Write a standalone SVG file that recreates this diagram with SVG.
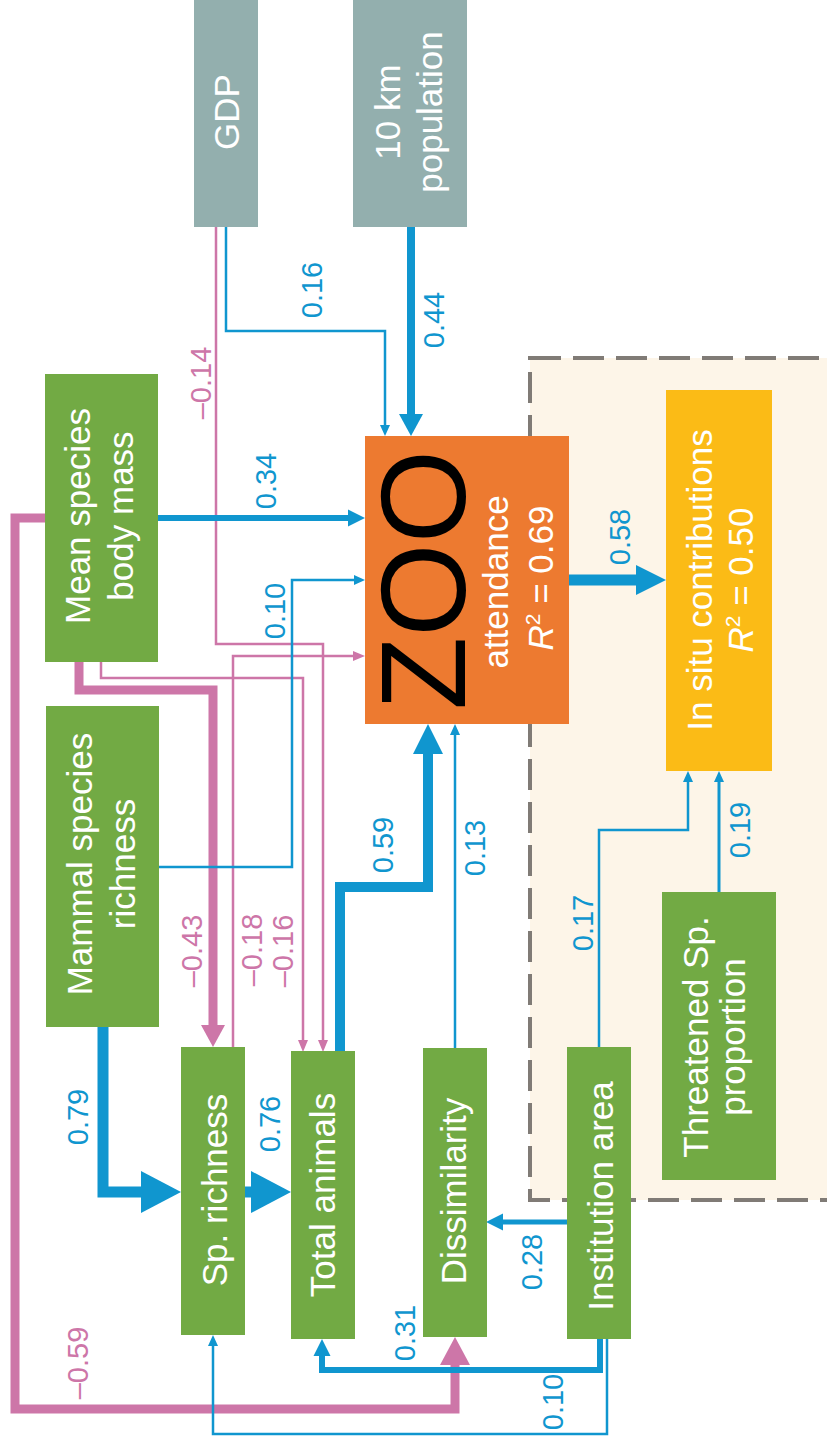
<svg xmlns="http://www.w3.org/2000/svg" width="827" height="1439" viewBox="0 0 827 1439">
  <defs>
    <style>
      text { font-family: "Liberation Sans", Arial, sans-serif; text-anchor: middle; }
      .node { fill: #ffffff; font-size: 35px; }
      .lbl { font-size: 29px; }
      .lb { fill: #1096cf; }
      .lp { fill: #cd76a8; }
      .green { fill: #72aa44; }
      .grey { fill: #93afae; }
      .wire { fill: none; stroke-linejoin: miter; stroke-linecap: butt; }
      .cb { stroke: #1096cf; }
      .cp { stroke: #cd76a8; }
    </style>
    <!-- arrowheads: the path ends at the base, the head extends forward -->
    <marker id="bs" markerUnits="userSpaceOnUse" viewBox="0 0 11 10" markerWidth="11" markerHeight="10" refX="0" refY="5" orient="auto" overflow="visible">
      <path d="M0,0 L11,5 L0,10 Z" fill="#1096cf"/>
    </marker>
    <marker id="bm" markerUnits="userSpaceOnUse" viewBox="0 0 17 17" markerWidth="17" markerHeight="17" refX="0" refY="8.5" orient="auto" overflow="visible">
      <path d="M0,0 L17,8.5 L0,17 Z" fill="#1096cf"/>
    </marker>
    <marker id="bl" markerUnits="userSpaceOnUse" viewBox="0 0 22 24" markerWidth="22" markerHeight="24" refX="0" refY="12" orient="auto" overflow="visible">
      <path d="M0,0 L22,12 L0,24 Z" fill="#1096cf"/>
    </marker>
    <marker id="bxl" markerUnits="userSpaceOnUse" viewBox="0 0 30 30" markerWidth="30" markerHeight="30" refX="0" refY="15" orient="auto" overflow="visible">
      <path d="M0,0 L30,15 L0,30 Z" fill="#1096cf"/>
    </marker>
    <marker id="bxxl" markerUnits="userSpaceOnUse" viewBox="0 0 40 42" markerWidth="40" markerHeight="42" refX="0" refY="21" orient="auto" overflow="visible">
      <path d="M0,0 L40,21 L0,42 Z" fill="#1096cf"/>
    </marker>
    <marker id="ps" markerUnits="userSpaceOnUse" viewBox="0 0 12 10" markerWidth="12" markerHeight="10" refX="0" refY="5" orient="auto" overflow="visible">
      <path d="M0,0 L12,5 L0,10 Z" fill="#cd76a8"/>
    </marker>
    <marker id="pl" markerUnits="userSpaceOnUse" viewBox="0 0 22 24" markerWidth="22" markerHeight="24" refX="0" refY="12" orient="auto" overflow="visible">
      <path d="M0,0 L22,12 L0,24 Z" fill="#cd76a8"/>
    </marker>
    <marker id="pxl" markerUnits="userSpaceOnUse" viewBox="0 0 28 30" markerWidth="28" markerHeight="30" refX="0" refY="15" orient="auto" overflow="visible">
      <path d="M0,0 L28,15 L0,30 Z" fill="#cd76a8"/>
    </marker>
  </defs>

  <rect width="827" height="1439" fill="#ffffff"/>

  <!-- conservation panel -->
  <rect id="panel" x="530" y="358" width="320" height="842" fill="#fdf5e8" stroke="#807b76" stroke-width="4" stroke-dasharray="31 12"/>

  <!-- connectors -->
  <g id="connectors">
    <!-- negative paths -->
    <path class="wire cp" stroke-width="2.5" d="M216,227 V644 H323 V1040" marker-end="url(#ps)"/>
    <path class="wire cp" stroke-width="2.5" d="M233,1047 V656 H353" marker-end="url(#ps)"/>
    <path class="wire cp" stroke-width="2.5" d="M101,662 V678 H303 V1040" marker-end="url(#ps)"/>
    <path class="wire cp" stroke-width="9" d="M79,662 V690 H213 V1025" marker-end="url(#pl)"/>
    <path class="wire cp" stroke-width="9" d="M45,518 H15 V1409 H455 V1365" marker-end="url(#pxl)"/>
    <!-- positive paths -->
    <path class="wire cb" stroke-width="2.5" d="M226,227 V331 H385 V425" marker-end="url(#bs)"/>
    <path class="wire cb" stroke-width="8" d="M411,227 V414" marker-end="url(#bl)"/>
    <path class="wire cb" stroke-width="6" d="M158,518 H348" marker-end="url(#bm)"/>
    <path class="wire cb" stroke-width="2.5" d="M159,867 H292 V580 H354" marker-end="url(#bs)"/>
    <path class="wire cb" stroke-width="11" d="M103,1027 V1192 H141" marker-end="url(#bxxl)"/>
    <path class="wire cb" stroke-width="11" d="M245,1192 H251" marker-end="url(#bxxl)"/>
    <path class="wire cb" stroke-width="10" d="M340,1051 V887 H428 V754" marker-end="url(#bxl)"/>
    <path class="wire cb" stroke-width="2.5" d="M455,1048 V735" marker-end="url(#bs)"/>
    <path class="wire cb" stroke-width="11" d="M569,580 H636" marker-end="url(#bxl)"/>
    <path class="wire cb" stroke-width="2.5" d="M599,1047 V830 H688 V782" marker-end="url(#bs)"/>
    <path class="wire cb" stroke-width="3" d="M719,892 V782" marker-end="url(#bs)"/>
    <path class="wire cb" stroke-width="5" d="M567,1222 H503" marker-end="url(#bm)"/>
    <path class="wire cb" stroke-width="6" d="M600,1339 V1370 H322 V1356" marker-end="url(#bm)"/>
    <path class="wire cb" stroke-width="2.5" d="M607,1339 V1434 H213 V1346" marker-end="url(#bs)"/>

    <!-- path coefficients -->
    <g class="lbl">
      <text class="lb" transform="translate(322,290) rotate(-90)">0.16</text>
      <text class="lb" transform="translate(444,320) rotate(-90)">0.44</text>
      <text class="lp" transform="translate(211,383) rotate(-90)">–0.14</text>
      <text class="lb" transform="translate(276,481) rotate(-90)">0.34</text>
      <text class="lb" transform="translate(285,611) rotate(-90)">0.10</text>
      <text class="lb" transform="translate(630,537) rotate(-90)">0.58</text>
      <text class="lp" transform="translate(202,951) rotate(-90)">–0.43</text>
      <text class="lp" transform="translate(262,950) rotate(-90)">–0.18</text>
      <text class="lp" transform="translate(293,951) rotate(-90)">–0.16</text>
      <text class="lb" transform="translate(393,845) rotate(-90)">0.59</text>
      <text class="lb" transform="translate(485,848) rotate(-90)">0.13</text>
      <text class="lb" transform="translate(593,923) rotate(-90)">0.17</text>
      <text class="lb" transform="translate(750,830) rotate(-90)">0.19</text>
      <text class="lb" transform="translate(88,1117) rotate(-90)">0.79</text>
      <text class="lb" transform="translate(280,1124) rotate(-90)">0.76</text>
      <text class="lp" transform="translate(88,1363) rotate(-90)">–0.59</text>
      <text class="lb" transform="translate(415,1333) rotate(-90)">0.31</text>
      <text class="lb" transform="translate(542,1262) rotate(-90)">0.28</text>
      <text class="lb" transform="translate(563,1402) rotate(-90)">0.10</text>
    </g>
  </g>

  <!-- nodes -->
  <g id="gdp">
    <rect class="grey" x="194" y="-5" width="64" height="232"/>
    <text class="node" transform="translate(239,112) rotate(-90)">GDP</text>
  </g>
  <g id="population">
    <rect class="grey" x="353" y="-5" width="114" height="232"/>
    <text class="node" transform="translate(400,112) rotate(-90)"><tspan x="0" y="0">10 km</tspan><tspan x="0" y="42">population</tspan></text>
  </g>
  <g id="body-mass">
    <rect class="green" x="45" y="374" width="113" height="288"/>
    <text class="node" transform="translate(90,516) rotate(-90)"><tspan x="0" y="0">Mean species</tspan><tspan x="0" y="43">body mass</tspan></text>
  </g>
  <g id="mammal-richness">
    <rect class="green" x="46" y="706" width="113" height="321"/>
    <text class="node" transform="translate(92,864) rotate(-90)"><tspan x="0" y="0">Mammal species</tspan><tspan x="0" y="43">richness</tspan></text>
  </g>
  <g id="sp-richness">
    <rect class="green" x="181" y="1047" width="64" height="288"/>
    <text class="node" transform="translate(227,1190) rotate(-90)">Sp. richness</text>
  </g>
  <g id="total-animals">
    <rect class="green" x="291" y="1051" width="64" height="288"/>
    <text class="node" transform="translate(335,1195) rotate(-90)">Total animals</text>
  </g>
  <g id="dissimilarity">
    <rect class="green" x="423" y="1048" width="64" height="289"/>
    <text class="node" transform="translate(466,1191) rotate(-90)">Dissimilarity</text>
  </g>
  <g id="institution-area">
    <rect class="green" x="567" y="1047" width="64" height="292"/>
    <text class="node" transform="translate(613,1196) rotate(-90)">Institution area</text>
  </g>
  <g id="threatened">
    <rect class="green" x="662" y="892" width="114" height="288"/>
    <text class="node" transform="translate(708,1037) rotate(-90)"><tspan x="0" y="0">Threatened Sp.</tspan><tspan x="0" y="37">proportion</tspan></text>
  </g>
  <g id="zoo">
    <rect fill="#ed7a30" x="365" y="436" width="204" height="288"/>
    <text fill="#000000" font-size="120" transform="translate(465,580) rotate(-90)">ZOO</text>
    <text class="node" font-size="33" transform="translate(508,582) rotate(-90)">attendance</text>
    <text class="node" font-size="34" transform="translate(553,578) rotate(-90)"><tspan font-style="italic">R</tspan><tspan font-size="21" dy="-13">2</tspan><tspan dy="13"> = 0.69</tspan></text>
  </g>
  <g id="in-situ">
    <rect fill="#fbbb16" x="666" y="390" width="106" height="381"/>
    <text class="node" font-size="40" transform="translate(712,580) rotate(-90)">In situ contributions</text>
    <text class="node" font-size="35" transform="translate(753,580) rotate(-90)"><tspan font-style="italic">R</tspan><tspan font-size="21" dy="-13">2</tspan><tspan dy="13"> = 0.50</tspan></text>
  </g>
</svg>
